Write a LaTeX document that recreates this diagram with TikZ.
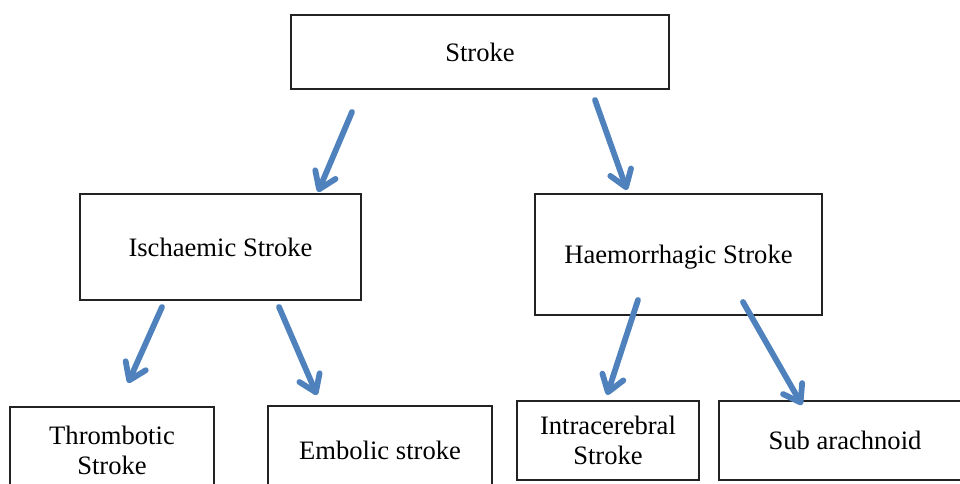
\documentclass[tikz,border=0pt]{standalone}
\usepackage{fontspec}
\setmainfont{Liberation Serif}
\usepackage{tikz}
\usetikzlibrary{arrows.meta,positioning}
\definecolor{boxLine}{HTML}{222222}
\definecolor{arrBlue}{HTML}{4F81BD}

\begin{document}
\begin{tikzpicture}[
  x=0.5pt,y=-0.5pt,
  font=\fontsize{13.3pt}{15pt}\selectfont,
  catbox/.style={draw=boxLine,line width=0.6pt,fill=white,align=center,inner sep=0pt,text depth=-2pt},
  arr/.style={-{Straight Barb[length=8pt,width=11pt,line cap=round,line join=round]},arrBlue,line width=2.9pt,line cap=round}
]
\useasboundingbox (0,0) rectangle (960,483);
% ---- Boxes ----
\node[catbox,minimum width=189pt,minimum height=37pt]   (stroke) at (480,52)    {Stroke};

\node[catbox,minimum width=140.5pt,minimum height=53pt] (isch)   at (220.5,247) {Ischaemic Stroke};
\node[catbox,minimum width=143.5pt,minimum height=60.5pt] (haem) at (678.5,254.5) {Haemorrhagic Stroke};

\node[catbox,minimum width=102pt,minimum height=43pt]   (thromb) at (112,450)   {Thrombotic\\Stroke};
\node[catbox,minimum width=112pt,minimum height=44pt]   (embol)  at (380,450)   {Embolic stroke};
\node[catbox,minimum width=91pt,minimum height=39.5pt]  (intra)  at (608,440.5) {Intracerebral\\Stroke};
\node[catbox,minimum width=126pt,minimum height=39.5pt] (subar)  at (845,440.5) {Sub arachnoid};

% ---- Arrow ends ----
\coordinate (s1) at (352,112); \coordinate (t1) at (318,192);
\coordinate (s2) at (595,100); \coordinate (t2) at (627,190);
\coordinate (s3) at (162,307); \coordinate (t3) at (128,383);
\coordinate (s4) at (279,307); \coordinate (t4) at (317,395);
\coordinate (s5) at (638,300); \coordinate (t5) at (607,395);
\coordinate (s6) at (743,302); \coordinate (t6) at (802,405);

% ---- Arrows ----
\draw[arr] (s1) -- (t1);
\draw[arr] (s2) -- (t2);
\draw[arr] (s3) -- (t3);
\draw[arr] (s4) -- (t4);
\draw[arr] (s5) -- (t5);
\draw[arr] (s6) -- (t6);
\end{tikzpicture}
\end{document}
